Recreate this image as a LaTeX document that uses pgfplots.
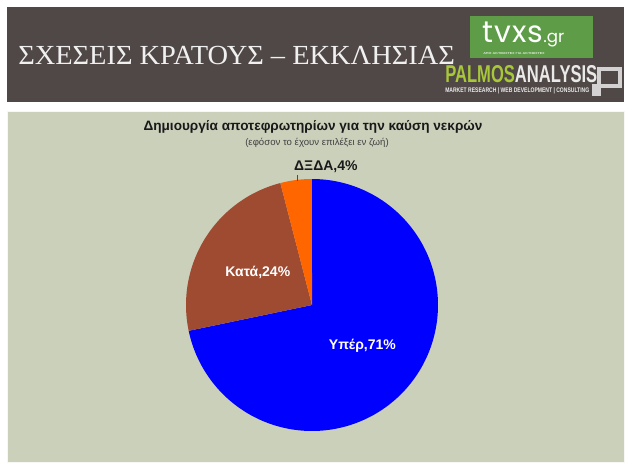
\documentclass[border=0pt]{standalone}
\usepackage{fontspec}
\setmainfont{Liberation Sans}
\newfontfamily\headfont{Liberation Serif}
\newfontfamily\tvxsfont{Poppins}
\usepackage{graphicx}
\usepackage{pgfplots}
\pgfplotsset{compat=1.18}
\definecolor{hdr}{HTML}{4F4846}
\definecolor{panel}{HTML}{CBD0BB}
\definecolor{pieblue}{HTML}{0000FF}
\definecolor{piebrown}{HTML}{9E4B32}
\definecolor{pieorange}{HTML}{FF6600}
\definecolor{tvgreen}{HTML}{5E9C48}
\definecolor{palgreen}{HTML}{A8C83A}
\begin{document}
\begin{tikzpicture}
% data
\pgfmathsetmacro{\vA}{71}
\pgfmathsetmacro{\vB}{24}
\pgfmathsetmacro{\vC}{4}
\pgfmathsetmacro{\tot}{\vA+\vB+\vC}
\pgfmathsetmacro{\aA}{90}
\pgfmathsetmacro{\aB}{\aA-360*(\vA/\tot)}
\pgfmathsetmacro{\aC}{\aB-360*(\vB/\tot)}
\pgfmathsetmacro{\aD}{\aC-360*(\vC/\tot)}
\begin{scope}[x=0.75pt,y=-0.75pt]
\fill[white] (0,0) rectangle (634,470);
\fill[hdr] (7,7) rectangle (624,102);
\fill[panel] (7,111) rectangle (624,462);
\draw[white!85!panel, line width=0.6pt] (7,111) rectangle (624,462);
% header title
\node[anchor=base west, inner sep=0pt, text=white!92!hdr] at (18,64.5)
  {\resizebox{327.5pt}{13.7pt}{\headfont ΣΧΕΣΕΙΣ ΚΡΑΤΟΥΣ – ΕΚΚΛΗΣΙΑΣ}};
% tvxs logo
\fill[tvgreen] (470,16) rectangle (593,58);
\node[anchor=base west, inner sep=0pt, text=white, font=\tvxsfont\fontsize{22.5}{22.5}\selectfont\addfontfeature{LetterSpace=4}] at (482,43) {tvxs};
\node[anchor=base west, inner sep=0pt, text=white, font=\tvxsfont\fontsize{12.5}{12.5}\selectfont] at (543,43) {.gr};
\node[anchor=base west, inner sep=0pt, text=white!80!tvgreen] at (483,55)
  {\resizebox{46pt}{1.5pt}{\bfseries ΑΠΟ ΑΚΤΙΒΙΣΤΕΣ ΓΙΑ ΑΚΤΙΒΙΣΤΕΣ}};
% palmos analysis logo
\node[anchor=base west, inner sep=0pt] at (445,83)
  {\resizebox{114pt}{12.75pt}{\bfseries\color{palgreen}PALMOS\color{white!88!hdr}ANALYSIS}};
\node[anchor=base west, inner sep=0pt, text=white!90!hdr] at (445,92.5)
  {\resizebox{108pt}{3.6pt}{\bfseries MARKET RESEARCH | WEB DEVELOPMENT | CONSULTING}};
\fill[white!75!hdr] (597,67) rectangle (622,88);
\fill[hdr] (601,71) rectangle (618,84);
\fill[white!75!hdr] (592,84) rectangle (601,96);
% chart title
\node[font=\bfseries\fontsize{10.2}{12}\selectfont, text=black!90] at (313,127)
  {Δημιουργία αποτεφρωτηρίων για την καύση νεκρών};
\node[font=\fontsize{7.2}{9}\selectfont, text=black!75] at (317,143)
  {(εφόσον το έχουν επιλέξει εν ζωή)};
\end{scope}
\begin{axis}[at={(234pt,-228.75pt)}, anchor=origin,
  hide axis, scale only axis, width=189pt, height=189pt,
  xmin=-1, xmax=1, ymin=-1, ymax=1, clip=false]
\addplot[draw=none, fill=pieblue, domain=\aB:\aA, samples=160, variable=\t]
  ({cos(\t)},{sin(\t)}) -- (axis cs:0,0) -- cycle;
\addplot[draw=none, fill=piebrown, domain=\aC:\aB, samples=80, variable=\t]
  ({cos(\t)},{sin(\t)}) -- (axis cs:0,0) -- cycle;
\addplot[draw=none, fill=pieorange, domain=\aD:\aC, samples=30, variable=\t]
  ({cos(\t)},{sin(\t)}) -- (axis cs:0,0) -- cycle;
\node[text=white, font=\bfseries\fontsize{10.5}{12}\selectfont] at (axis cs:0.40,-0.32) {Υπέρ,71\%};
\node[text=white, font=\bfseries\fontsize{10.5}{12}\selectfont] at (axis cs:-0.43,0.26) {Κατά,24\%};
\node[text=black!90, font=\bfseries\fontsize{10.5}{12}\selectfont] at (axis cs:0.11,1.10) {ΔΞΔΑ,4\%};
\addplot[black!70, line width=0.5pt, no marks] coordinates {(-0.12,0.985) (-0.12,1.03)};
\end{axis}
\end{tikzpicture}
\end{document}
